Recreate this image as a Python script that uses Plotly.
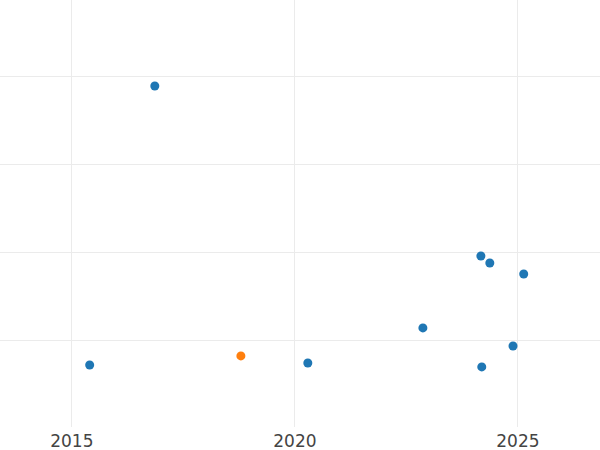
import plotly.graph_objs as go

# year (decimal) and value of each point
years = [2015.40, 2016.86, 2020.29, 2022.87, 2024.17, 2024.37, 2025.13, 2024.89, 2024.19]
values = [0.727, 3.898, 0.75, 1.148, 1.966, 1.886, 1.761, 0.943, 0.705]

highlight_year = [2018.79]
highlight_value = [0.830]

tick_years = [2015, 2020, 2025]

fig = go.Figure()

fig.add_trace(go.Scatter(
    x=years,
    y=values,
    mode='markers',
    marker=dict(color='#1f77b4', size=9),
    showlegend=False
))

fig.add_trace(go.Scatter(
    x=highlight_year,
    y=highlight_value,
    mode='markers',
    marker=dict(color='#ff7f0e', size=9),
    showlegend=False
))

fig.update_layout(
    width=600,
    height=450,
    margin=dict(l=0, r=0, t=0, b=23),
    paper_bgcolor='white',
    plot_bgcolor='white',
    font=dict(family='DejaVu Sans', size=17, color='#444'),
    xaxis=dict(
        range=[2013.39, 2026.84],
        tickmode='array',
        tickvals=tick_years,
        ticktext=[str(t) for t in tick_years],
        ticklabelstandoff=2,
        showgrid=True,
        gridcolor='#ebebeb',
        zeroline=False,
        showline=False,
    ),
    yaxis=dict(
        range=[0.022, 4.875],
        tickmode='array',
        tickvals=[1, 2, 3, 4],
        showticklabels=False,
        showgrid=True,
        gridcolor='#ebebeb',
        zeroline=False,
        showline=False,
    ),
)

# page has a default 8px body margin; drop it so the chart sits at the corner
fig.write_html("out.html", config={'displayModeBar': False},
               post_script="document.body.style.margin='0';")
